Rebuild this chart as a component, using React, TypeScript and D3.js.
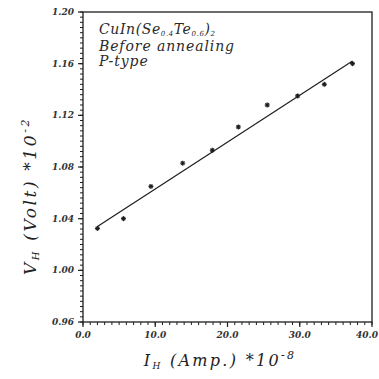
import React from 'react';
import * as d3 from 'd3';

// values
const currentX = [2.0, 5.6, 9.4, 13.8, 17.9, 21.5, 25.5, 29.7, 33.4, 37.3];
const voltY = [1.0325, 1.040, 1.065, 1.083, 1.093, 1.111, 1.128, 1.135, 1.144, 1.160];
// straight fit drawn through the points
const fitX = [2.0, 37.3];
const fitY = [1.034, 1.162];
const xTickLabels = ['0.0', '10.0', '20.0', '30.0', '40.0'];
const yTickLabels = ['0.96', '1.00', '1.04', '1.08', '1.12', '1.16', '1.20'];
const noteLines = ['Before annealing', 'P-type'];

const App = () => {
  const W = 379;
  const H = 379;
  const margin = { top: 12, right: 7, bottom: 57, left: 83 };
  const width = W - margin.left - margin.right;
  const height = H - margin.top - margin.bottom;

  const x = d3.scaleLinear().domain([0, 40]).range([0, width]);
  const y = d3.scaleLinear().domain([0.96, 1.2]).range([height, 0]);

  const xMinor = d3.range(0, 40.001, 1);
  const yMinor = d3.range(0.96, 1.2001, 0.004);

  const line = d3.line<number>()
    .x((_, i) => x(fitX[i]))
    .y(d => y(d));

  const ink = '#1e1e1e';
  const serif = '"DejaVu Serif", "Liberation Serif", serif';

  const star = (cx: number, cy: number, k: number) => {
    const r = 2.5;
    return (
      <g key={`p-${k}`} stroke={ink} strokeWidth={1.2}>
        <line x1={cx - r} y1={cy} x2={cx + r} y2={cy} />
        <line x1={cx} y1={cy - r} x2={cx} y2={cy + r} />
        <line x1={cx - r * 0.7} y1={cy - r * 0.7} x2={cx + r * 0.7} y2={cy + r * 0.7} />
        <line x1={cx - r * 0.7} y1={cy + r * 0.7} x2={cx + r * 0.7} y2={cy - r * 0.7} />
      </g>
    );
  };

  return (
    <div style={{ position: 'fixed', left: 0, top: 0 }}>
      <svg width={W} height={H} style={{ display: 'block', background: '#fff' }}>
        <g transform={`translate(${margin.left},${margin.top})`}>
          {/* frame */}
          <rect x={0} y={0} width={width} height={height} fill="none" stroke={ink} strokeWidth={1.3} />

          {/* y ticks */}
          {yMinor.map((t, i) => (
            <line key={`ym-${i}`} x1={0} x2={-3} y1={y(t)} y2={y(t)} stroke={ink} strokeWidth={1} />
          ))}
          {yTickLabels.map(t => (
            <g key={`yt-${t}`} transform={`translate(0,${y(+t)})`}>
              <line x1={0} x2={-5} stroke={ink} strokeWidth={1.2} />
              <text x={-9} dy="0.35em" textAnchor="end" fontSize={9} fontStyle="italic"
                fontWeight="bold" fontFamily={serif} fill="#333">{t}</text>
            </g>
          ))}

          {/* x ticks */}
          {xMinor.map((t, i) => (
            <line key={`xm-${i}`} x1={x(t)} x2={x(t)} y1={height} y2={height + 3} stroke={ink} strokeWidth={1} />
          ))}
          {xTickLabels.map((t, i) => {
            const last = i === xTickLabels.length - 1;
            return (
              <g key={`xt-${t}`} transform={`translate(${x(+t)},${height})`}>
                <line y1={0} y2={5} stroke={ink} strokeWidth={1.2} />
                <text x={last ? 6 : 0} y={13} dy="0.35em" textAnchor={last ? 'end' : 'middle'}
                  fontSize={9} fontStyle="italic" fontWeight="bold" fontFamily={serif} fill="#333">{t}</text>
              </g>
            );
          })}

          {/* fit line */}
          <path d={line(fitY) || ''} fill="none" stroke={ink} strokeWidth={1.2} />

          {/* points */}
          {currentX.map((v, i) => star(x(v), y(voltY[i]), i))}

          {/* note */}
          <text x={16} y={22} fontSize={14} fontStyle="italic" fontFamily={serif} fill="#2a2a2a"
            letterSpacing={0.6}>
            CuIn(Se<tspan fontSize={7} dy={2}>0.4</tspan><tspan dy={-2}>Te</tspan>
            <tspan fontSize={7} dy={2}>0.6</tspan><tspan dy={-2}>)</tspan>
            <tspan fontSize={7} dy={2}>2</tspan>
          </text>
          {noteLines.map((s, i) => (
            <text key={s} x={16} y={39 + i * 15} fontSize={14} fontStyle="italic"
              fontFamily={serif} fill="#2a2a2a" letterSpacing={0.9}>{s}</text>
          ))}
        </g>

        {/* x axis title */}
        <text x={220} y={366} textAnchor="middle" fontSize={16} fontStyle="italic"
          fontFamily={serif} fill="#222" letterSpacing={2.3}>
          I<tspan fontSize={9} dy={3}>H</tspan><tspan dy={-3}>{'  (Amp.)  *10'}</tspan>
          <tspan fontSize={11} dy={-7}>-8</tspan>
        </text>

        {/* y axis title */}
        <text transform="translate(36,196) rotate(-90)" textAnchor="middle" fontSize={17}
          fontStyle="italic" fontFamily={serif} fill="#222" letterSpacing={2.6}>
          V<tspan fontSize={10} dy={3}>H</tspan><tspan dy={-3}>{'  (Volt)  *10'}</tspan>
          <tspan fontSize={11} dy={-7}>-2</tspan>
        </text>
      </svg>
    </div>
  );
};

export default App;
